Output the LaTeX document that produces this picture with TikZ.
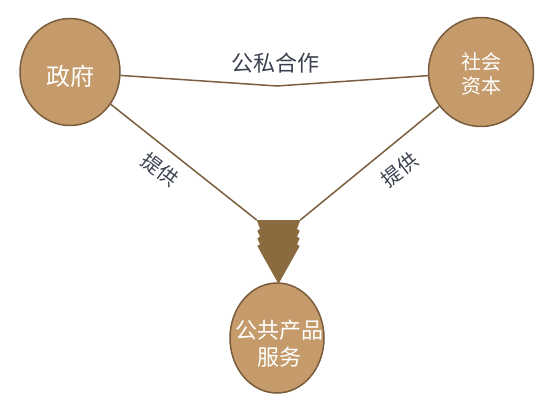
\documentclass[tikz,border=0pt]{standalone}
\usepackage{fontspec}
\newfontfamily\cjk{Noto Sans CJK SC}
\usetikzlibrary{shapes.geometric}
\definecolor{cfill}{HTML}{C69B6B}
\definecolor{cdraw}{HTML}{7A5C3C}
\definecolor{arrowc}{HTML}{8A6A3F}
\definecolor{linec}{HTML}{7A5E3E}
\definecolor{labc}{HTML}{3C4150}
\tikzset{
  circ/.style={ellipse, fill=cfill, draw=cdraw, line width=1.5pt, inner sep=0pt, text=white, align=center},
  conn/.style={draw=linec, line width=1.5pt},
  lab/.style={text=labc, inner sep=0pt},
}
\begin{document}
\begin{tikzpicture}[x=1pt, y=-1pt]
\useasboundingbox (0,0) rectangle (551,414);
\node[circ, minimum width=100pt, minimum height=107pt] (gov) at (70,72) {};
\node[circ, minimum width=105pt, minimum height=109pt] (soc) at (481,72) {};
\node[circ, minimum width=94pt, minimum height=110pt] (pub) at (277,338) {};
\node[text=white, inner sep=0pt, font=\cjk\fontsize{24}{28}\selectfont] (govt) at (70,76) {政府};
\node[text=white, inner sep=0pt, align=center, font=\cjk\fontsize{20}{23.5}\selectfont] (soct) at (481.5,74) {社会\\资本};
\node[text=white, inner sep=0pt, align=center, font=\cjk\fontsize{22}{27}\selectfont] (pubt) at (279,344) {公共产品\\服务};
\coordinate (v) at (277,86);
\coordinate (ah) at (278.5,220);
\coordinate (al) at (256.7,220);
\coordinate (ar) at (300.3,220);
\path[conn] (gov) -- (v) -- (soc);
\path[conn] (gov) -- (al);
\path[conn] (soc) -- (ar);
\fill[arrowc] (ah) ++(-21.8,0) -- ++(3.3,9) -- ++(-2.7,1.7) -- ++(2.7,6) -- ++(-2.7,1.6) -- ++(2.7,6) -- ++(-2.7,1.7) -- (278.5,284)
  -- (299.7,246) -- ++(-2.7,-1.7) -- ++(2.7,-6) -- ++(-2.7,-1.6) -- ++(2.7,-6) -- ++(-2.7,-1.7) -- (300.3,220) -- cycle;
\node[lab, font=\cjk\fontsize{22}{26}\selectfont] (coop) at (275,63) {公私合作};
\node[lab, font=\cjk\fontsize{20}{24}\selectfont, rotate=-38] (p1) at (160,170) {提供};
\node[lab, font=\cjk\fontsize{20}{24}\selectfont, rotate=38] (p2) at (400,170) {提供};
\end{tikzpicture}
\end{document}
